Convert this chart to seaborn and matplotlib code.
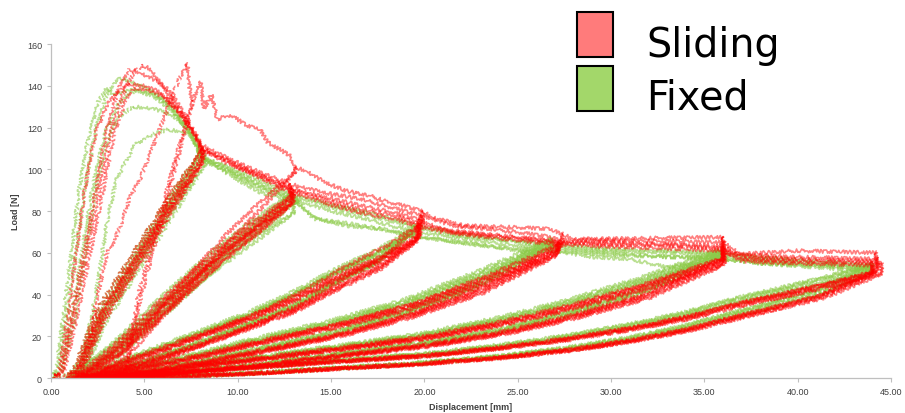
import matplotlib
matplotlib.use("Agg")
import matplotlib.pyplot as plt
from matplotlib.patches import Rectangle
import pandas as pd
import seaborn as sns

# ---------------------------------------------------------------------------
# Cyclic pull-out tests: load [N] against displacement [mm]
# Each specimen: initial loading to peak, then softening envelope split at the
# six unloading points (~8, 13, 19.5, 27, 36, 44 mm).
# ---------------------------------------------------------------------------

# --- Sliding specimens ------------------------------------------------------
s1_init = [(0, 0), (0.6, 3), (1.2, 30), (2.6, 90), (3.2, 118), (3.8, 135), (4.4, 146), (4.9, 150)]
s1_env = [
    [(4.9, 150), (5.3, 148), (6.2, 137), (6.9, 128), (7.8, 115), (8.1, 110)],
    [(8.1, 110), (9.5, 104), (11.0, 98), (12.9, 91)],
    [(12.9, 91), (14.0, 88), (16.0, 84), (18.0, 80), (19.7, 76)],
    [(19.7, 76), (21.0, 71), (23.9, 68.5), (26.6, 66), (27.2, 65)],
    [(27.2, 65), (30.0, 65), (33.0, 64), (36.0, 63)],
    [(36.0, 63), (37.0, 58), (40.0, 57), (44.0, 56)],
]
s1_resid = [1.0, 1.4, 1.6, 1.8, 2.2, 2.6]
s1_stiff = [1.0, 1.0, 0.98, 0.97, 0.97, 0.97]

s2_init = [(0, 0), (0.5, 2), (1.1, 30), (2.4, 90), (3.0, 120), (3.6, 138), (4.2, 148)]
s2_env = [
    [(4.2, 148), (4.8, 146), (5.5, 143), (6.3, 138), (7.2, 126), (8.0, 112)],
    [(8.0, 112), (9.3, 106), (10.8, 100), (12.8, 93)],
    [(12.8, 93), (14.5, 89), (16.5, 86), (18.5, 81), (19.8, 78)],
    [(19.8, 78), (21.5, 73), (24.0, 71), (26.5, 68), (27.3, 66)],
    [(27.3, 66), (30.0, 66), (33.0, 65.5), (36.0, 65)],
    [(36.0, 65), (37.0, 59), (40.0, 58), (44.3, 57)],
]
s2_resid = [0.8, 1.2, 1.4, 1.6, 2.0, 2.4]
s2_stiff = [1.02, 1.01, 1.0, 0.99, 0.99, 0.99]

s3_init = [(0, 0), (0.7, 3), (1.4, 30), (2.8, 90), (3.4, 118), (4.0, 133), (4.5, 139)]
s3_env = [
    [(4.5, 139), (5.2, 138), (6.2, 134), (7.2, 124), (8.1, 110)],
    [(8.1, 110), (9.6, 103), (11.2, 96), (12.9, 89)],
    [(12.9, 89), (15.0, 83), (16.7, 79), (18.5, 76), (19.6, 73)],
    [(19.6, 73), (21.0, 70), (24.0, 67), (27.1, 64)],
    [(27.1, 64), (30.0, 63), (33.0, 62), (36.0, 61)],
    [(36.0, 61), (37.0, 56), (40.0, 55), (44.0, 54)],
]
s3_resid = [1.2, 1.6, 1.8, 2.0, 2.4, 2.8]
s3_stiff = [0.97, 0.97, 0.95, 0.93, 0.93, 0.94]

s4_init = [(0, 0), (0.4, 2), (0.9, 30), (1.8, 90), (2.4, 118), (3.0, 131), (3.5, 136), (4.2, 141)]
s4_env = [
    [(4.2, 141), (5.0, 140), (5.8, 137), (6.8, 128), (7.8, 116), (8.2, 109)],
    [(8.2, 109), (9.6, 102), (11.2, 97), (13.0, 90)],
    [(13.0, 90), (14.8, 85), (16.5, 81), (18.3, 78), (19.7, 74)],
    [(19.7, 74), (21.5, 70), (24.0, 68), (27.2, 65)],
    [(27.2, 65), (30.0, 64), (33.0, 63.5), (36.1, 62)],
    [(36.1, 62), (37.0, 57), (40.0, 56), (44.5, 55)],
]
s4_resid = [1.1, 1.5, 1.7, 1.9, 2.3, 2.7]
s4_stiff = [0.99, 0.98, 0.97, 0.95, 0.95, 0.96]

s5_init = [(0, 0), (0.8, 1), (1.5, 5), (2.1, 22), (2.5, 40), (3.0, 60), (3.2, 63), (3.4, 66),
           (3.8, 75), (4.2, 86), (4.8, 96), (5.5, 112), (6.2, 128), (6.8, 142), (7.3, 151)]
s5_env = [
    [(7.3, 151), (7.45, 136), (7.6, 133)],
    [(7.6, 133), (8.0, 142), (8.2, 129), (8.6, 136), (8.9, 124), (9.6, 126), (10.5, 121),
     (11.2, 119), (11.6, 113), (12.8, 106.5), (13.1, 101)],
    [(13.1, 101), (13.7, 99), (14.6, 94), (15.8, 89.7), (17.1, 87.3), (18.0, 84.4),
     (18.9, 82.5), (19.9, 80)],
    [(19.9, 80), (20.4, 77), (22.1, 73), (24.0, 72.5), (26.6, 71.5), (27.4, 69)],
    [(27.4, 69), (28.0, 66.5), (32.0, 67), (36.0, 67.5)],
    [(36.0, 67.5), (36.2, 59), (40.0, 61), (44.2, 60)],
]
s5_resid = [3.8, 2.4, 2.6, 2.8, 3.0, 3.2]
s5_stiff = [1.25, 1.15, 1.08, 1.03, 0.98, 0.98]

# --- Fixed specimens --------------------------------------------------------
f1_init = [(0, 0), (0.3, 5), (0.8, 40), (1.5, 90), (2.0, 115), (2.5, 132), (3.0, 139)]
f1_env = [
    [(3.0, 139), (3.3, 136), (3.8, 137), (4.5, 138), (5.5, 135), (6.5, 128), (7.5, 117), (8.0, 107)],
    [(8.0, 107), (9.5, 100), (11.0, 94), (12.9, 87)],
    [(12.9, 87), (15.0, 82), (17.0, 78), (19.5, 72)],
    [(19.5, 72), (22.0, 68), (24.5, 66), (26.8, 63)],
    [(26.8, 63), (30.0, 61), (33.0, 60), (35.8, 59)],
    [(35.8, 59), (38.0, 57), (41.0, 55), (44.0, 53)],
]
f1_resid = [0.8, 1.0, 1.3, 1.5, 1.9, 2.3]
f1_stiff = [1.02, 1.03, 1.05, 1.06, 1.06, 1.05]

f2_init = [(0, 0), (0.4, 4), (1.0, 40), (1.8, 90), (2.4, 120), (3.0, 136), (3.7, 144)]
f2_env = [
    [(3.7, 144), (4.5, 141), (5.5, 137), (6.5, 130), (7.5, 118), (8.0, 106)],
    [(8.0, 106), (9.5, 101), (11.2, 95), (13.0, 88)],
    [(13.0, 88), (15.0, 83), (17.2, 79), (19.6, 73)],
    [(19.6, 73), (22.0, 69), (24.5, 66), (26.9, 64)],
    [(26.9, 64), (30.0, 62), (33.0, 61), (35.9, 60)],
    [(35.9, 60), (38.0, 58), (41.0, 56), (44.0, 54)],
]
f2_resid = [1.0, 1.3, 1.5, 1.7, 2.1, 2.5]
f2_stiff = [1.01, 1.02, 1.03, 1.03, 1.03, 1.02]

f3_init = [(0, 0), (0.5, 3), (1.2, 35), (2.2, 90), (2.9, 118), (3.6, 131), (4.2, 136), (4.8, 138)]
f3_env = [
    [(4.8, 138), (5.5, 136), (6.5, 129), (7.5, 116), (8.1, 105)],
    [(8.1, 105), (9.6, 99), (11.2, 92), (13.0, 86)],
    [(13.0, 86), (14.0, 77), (15.8, 73), (17.6, 71.5), (19.3, 68)],
    [(19.3, 68), (21.0, 66), (23.0, 64), (25.7, 60), (26.8, 61)],
    [(26.8, 61), (29.0, 58), (31.0, 57), (33.0, 53), (35.0, 55), (35.8, 57)],
    [(35.8, 57), (38.0, 55), (41.0, 54), (44.0, 52)],
]
f3_resid = [1.2, 0.8, 1.5, 1.8, 2.2, 2.6]
f3_stiff = [1.0, 0.92, 1.0, 1.0, 1.0, 0.99]

f4_init = [(0, 0), (0.6, 3), (1.3, 30), (2.4, 90), (3.0, 113), (3.6, 125), (4.4, 130)]
f4_env = [
    [(4.4, 130), (5.5, 129), (6.5, 126), (7.3, 120), (8.2, 104)],
    [(8.2, 104), (9.6, 98), (11.2, 91), (13.1, 85)],
    [(13.1, 85), (15.0, 80), (17.0, 76), (19.4, 70)],
    [(19.4, 70), (22.0, 67), (24.5, 64), (26.8, 62)],
    [(26.8, 62), (30.0, 60), (33.0, 58), (35.8, 58)],
    [(35.8, 58), (38.0, 56), (41.0, 54), (43.8, 53)],
]
f4_resid = [1.0, 1.4, 1.6, 1.9, 2.3, 2.7]
f4_stiff = [0.99, 1.0, 1.02, 1.04, 1.04, 1.03]

f5_init = [(0, 0), (1.0, 2), (1.7, 10), (2.4, 40), (3.0, 75), (3.5, 95), (4.5, 112), (5.5, 117), (6.3, 119)]
f5_env = [
    [(6.3, 119), (7.0, 118), (7.8, 115), (8.3, 105)],
    [(8.3, 105), (9.6, 97), (11.2, 89), (13.2, 84)],
    [(13.2, 84), (14.2, 76), (16.0, 74), (18.0, 71), (19.4, 68)],
    [(19.4, 68), (21.0, 66), (23.5, 63), (26.8, 61)],
    [(26.8, 61), (30.0, 59), (33.0, 58), (35.8, 57)],
    [(35.8, 57), (38.0, 55), (41.0, 53), (44.0, 51)],
]
f5_resid = [1.3, 1.6, 1.8, 2.1, 2.5, 2.9]
f5_stiff = [0.97, 0.99, 1.01, 1.0, 1.0, 0.98]

# --- Unload / reload paths of each cycle (displacement, reload load, unload load)
band1_x = [1.0, 1.5, 2.6, 4.8, 6.5, 8.0]
band1_up = [0, 6, 32, 63, 87, 106]
band1_dn = [0, 3, 27, 59, 84, 106]

band2_x = [1.4, 3.5, 6.2, 9.0, 11.2, 13.0]
band2_up = [0, 15, 38, 60, 75, 86]
band2_dn = [0, 11, 33, 56, 72, 86]

band3_x = [1.6, 5.0, 8.0, 10.7, 13.0, 15.0, 17.5, 19.5]
band3_up = [0, 11.5, 21, 30, 39, 48.5, 58.5, 69]
band3_dn = [0, 7.5, 16.5, 25.5, 33.5, 43.5, 54.5, 69]

band4_x = [1.8, 5.0, 8.0, 10.7, 15.0, 19.0, 23.0, 27.0]
band4_up = [0, 5.5, 11, 17, 25.5, 35, 48, 63]
band4_dn = [0, 3, 7.5, 12.5, 20.5, 30.5, 43.5, 63]

band5_x = [2.2, 5.0, 8.0, 10.7, 15.0, 20.0, 24.0, 27.8, 32.0, 36.0]
band5_up = [0, 2.5, 6, 9, 14, 20, 27, 35, 46, 58]
band5_dn = [0, 1.2, 3.5, 6, 10.5, 16, 22, 30, 41, 58]

band6_x = [2.6, 5.0, 8.0, 10.7, 15.0, 20.0, 24.0, 27.8, 31.0, 34.0, 37.0, 41.0, 44.0]
band6_up = [0, 1.6, 3.5, 5.2, 8, 11, 15, 19.5, 24.5, 30, 37, 45, 52]
band6_dn = [0, 0.4, 1.2, 2.3, 4.5, 7.2, 10, 14, 18.5, 24, 31, 40, 52]

bands = [(band1_x, band1_up, band1_dn), (band2_x, band2_up, band2_dn),
         (band3_x, band3_up, band3_dn), (band4_x, band4_up, band4_dn),
         (band5_x, band5_up, band5_dn), (band6_x, band6_up, band6_dn)]

sliding = [(s1_init, s1_env, s1_resid, s1_stiff), (s2_init, s2_env, s2_resid, s2_stiff),
           (s3_init, s3_env, s3_resid, s3_stiff), (s4_init, s4_env, s4_resid, s4_stiff),
           (s5_init, s5_env, s5_resid, s5_stiff)]
fixed = [(f1_init, f1_env, f1_resid, f1_stiff), (f2_init, f2_env, f2_resid, f2_stiff),
         (f3_init, f3_env, f3_resid, f3_stiff), (f4_init, f4_env, f4_resid, f4_stiff),
         (f5_init, f5_env, f5_resid, f5_stiff)]


def specimen_rows(group, sid, init, env, resid, stiff):
    """Turn one specimen into polyline pieces (long-form rows)."""
    pieces = [("dashed", init)]
    for k, seg in enumerate(env):
        pieces.append(("solid", seg))
        x_top, y_top = seg[-1]
        bx, up, dn = bands[k]
        r, s = resid[k], stiff[k]
        span = (x_top - r) / (bx[-1] - bx[0])
        xs = [r + (b - bx[0]) * span for b in bx]
        kind = "dashed" if k == 0 else "solid"
        unload = [(x_top, y_top)] + [(x, y * s) for x, y in zip(xs[::-1], dn[::-1])]
        reload = [(x, y * s) for x, y in zip(xs, up)] + [(x_top, y_top)]
        pieces.append((kind, unload))
        pieces.append((kind, reload))
    rows = []
    for i, (kind, pts) in enumerate(pieces):
        for x, y in pts:
            rows.append({"disp": x, "load": y, "group": group,
                         "curve": f"{group}-{sid}-{i}", "kind": kind})
    return rows


rows = []
for i, sp in enumerate(fixed):
    rows += specimen_rows("Fixed", i, *sp)
for i, sp in enumerate(sliding):
    rows += specimen_rows("Sliding", i, *sp)
df = pd.DataFrame(rows)

sns.set_style("ticks")
fig = plt.figure(figsize=(9.05, 4.14), dpi=100)
ax = fig.add_axes([0.0564, 0.0845, 0.9282, 0.8068])

palette = {"Sliding": "#FF0000", "Fixed": "#8CCB48"}
for grp, alpha in [("Fixed", 0.6), ("Sliding", 0.5)]:
    sns.lineplot(data=df[df["group"] == grp], x="disp", y="load", hue="group",
                 units="curve", style="kind", dashes={"solid": "", "dashed": (3, 1.2)},
                 estimator=None, sort=False, palette=palette, alpha=alpha,
                 linewidth=1.2, legend=False, ax=ax)

for line in ax.lines:
    line.set_sketch_params(scale=1.8, length=2.5, randomness=3)

ax.set_xlim(0, 45)
ax.set_ylim(0, 160)
ax.set_xticks(range(0, 46, 5))
ax.set_xticklabels([f"{v:.2f}" for v in range(0, 46, 5)])
ax.set_yticks(range(0, 161, 20))

tick_font = "Liberation Sans"
for lab in ax.get_xticklabels() + ax.get_yticklabels():
    lab.set_fontfamily(tick_font)
ax.tick_params(axis="both", colors="#BFBFBF", labelcolor="#404040", labelsize=6.5,
               length=3, width=0.8)
for side in ("top", "right"):
    ax.spines[side].set_visible(False)
for side in ("left", "bottom"):
    ax.spines[side].set_color("#BFBFBF")
    ax.spines[side].set_linewidth(0.9)

ax.set_xlabel("Displacement [mm]", fontsize=6.5, fontweight="bold", color="#404040",
              family=tick_font, labelpad=4)
ax.set_ylabel("Load [N]", fontsize=6.5, fontweight="bold", color="#404040",
              family=tick_font, labelpad=5)

# Legend: coloured squares with large labels in the top-right corner
fig.patches.append(Rectangle((577 / 905, 1 - 58 / 414), 36 / 905, 45 / 414,
                             transform=fig.transFigure, facecolor="#FF7B7B",
                             edgecolor="black", linewidth=1.5))
fig.patches.append(Rectangle((577 / 905, 1 - 112 / 414), 36 / 905, 45 / 414,
                             transform=fig.transFigure, facecolor="#A3D76A",
                             edgecolor="black", linewidth=1.5))
fig.text(646 / 905, 1 - 57 / 414, "Sliding", fontsize=28.5, family="DejaVu Sans",
         va="baseline", ha="left", color="black")
fig.text(646 / 905, 1 - 110 / 414, "Fixed", fontsize=28.5, family="DejaVu Sans",
         va="baseline", ha="left", color="black")

fig.savefig("out.png", dpi=100)
